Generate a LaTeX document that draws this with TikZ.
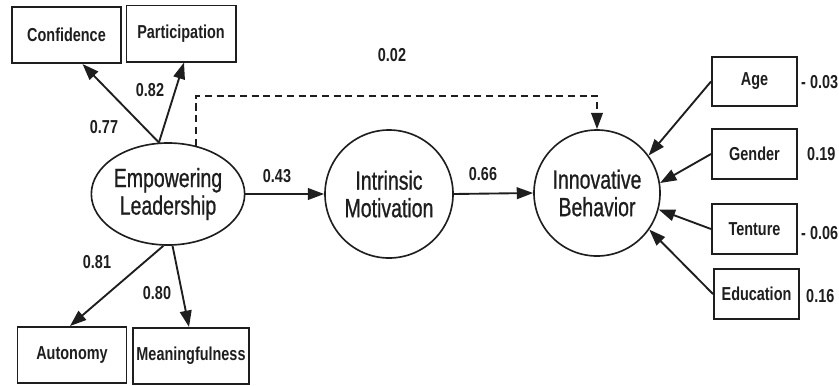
\documentclass[tikz,border=0pt]{standalone}
\usepackage{fontspec}
\setmainfont{Liberation Sans}
\newfontfamily\narrowfont{Liberation Sans}[FakeStretch=0.77]
\newfontfamily\latentfont{Liberation Sans}[FakeStretch=0.74, FakeBold=0.8]
\usetikzlibrary{shapes.geometric, calc, arrows.meta}
\definecolor{ink}{HTML}{1E1E1E}

\begin{document}
\begin{tikzpicture}[x=0.03cm, y=-0.03cm,
        item/.style={draw=ink, line width=1.7pt, inner sep=0pt, minimum width=3.27cm, minimum height=1.68cm,
            font=\narrowfont\bfseries\fontsize{16}{18}\selectfont, text=ink},
        ctrl/.style={item, minimum width=2.55cm, minimum height=1.48cm},
        latent/.style={draw=ink, line width=1.4pt, inner sep=0pt, align=center,
            font=\latentfont\fontsize{22.5}{23.5}\selectfont, text=ink},
        link/.style={draw=ink, line width=1.6pt, -{Triangle[length=14pt,width=10pt]}},
        coef/.style={font=\narrowfont\bfseries\fontsize{16}{18}\selectfont, text=ink}]
    \useasboundingbox (0,0) rectangle (839,385);

    % latent variables
    \node[latent, ellipse, minimum width=3.9cm, minimum height=3.06cm] (el) at (168,194) {Empowering\\Leadership};
    \node[latent, circle, minimum size=3.84cm] (im) at (389,194) {Intrinsic\\Motivation};
    \node[latent, circle, minimum size=3.78cm] (ib) at (597,193) {Innovative\\Behavior};

    % indicators of empowering leadership
    \node[item] (conf) at (66.5,35) {Confidence};
    \node[item] (part) at (181,33.5) {Participation};
    \node[item] (auto) at (72,355) {Autonomy};
    \node[item, minimum width=3.48cm] (mean) at (191,356) {Meaningfulness};

    % control variables
    \node[ctrl] (age) at (754.5,81.5) {Age};
    \node[ctrl] (gend) at (754.5,154) {Gender};
    \node[ctrl] (tent) at (754.5,229) {Tenture};
    \node[ctrl] (edu) at (756.5,294) {Education};

    % loadings
    \draw[link] (el.100) -- ($(conf.south)+(16,0)$);
    \draw[link] (el.100) -- ($(part.south)+(3,0)$);
    \draw[link] (el.265) -- ($(auto.north)+(-2,0)$);
    \draw[link] (el.275) -- ($(mean.north)+(-2,0)$);

    % structural paths
    \draw[link] (el.east) -- (im.west);
    \draw[link] (im.east) -- (ib.west);
    \coordinate (bend) at (597,96);
    \draw[link, dash pattern=on 6pt off 4pt] (el.60) |- (bend) -- (ib.north);

    \draw[link] (age.west) -- (ib.36);
    \draw[link] (gend.west) -- (ib.9);
    \draw[link] (tent.west) -- (ib.-15);
    \draw[link] (edu.west) -- (ib.-35);

    % coefficients
    \node[coef] (c02) at (392,55) {0.02};
    \node[coef] (c82) at (150,90) {0.82};
    \node[coef] (c77) at (104,127) {0.77};
    \node[coef] (c43) at (277,176) {0.43};
    \node[coef] (c66) at (483,174) {0.66};
    \node[coef] (c81) at (97,262) {0.81};
    \node[coef] (c80) at (157,293) {0.80};
    \node[coef, anchor=west, inner sep=0pt] (cage) at (801,82) {- 0.03};
    \node[coef, anchor=west, inner sep=0pt] (cgend) at (807,154) {0.19};
    \node[coef, anchor=west, inner sep=0pt] (ctent) at (801,233) {- 0.06};
    \node[coef, anchor=west, inner sep=0pt] (cedu) at (806,296) {0.16};
\end{tikzpicture}
\end{document}
